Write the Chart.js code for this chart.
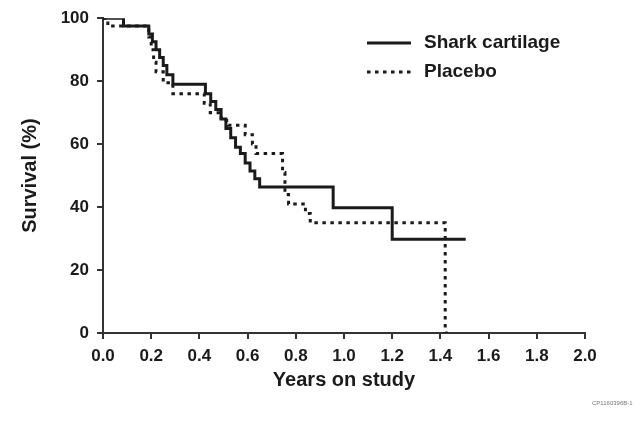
<!DOCTYPE html>
<html>
<head>
<meta charset="utf-8">
<script src="https://cdn.jsdelivr.net/npm/chart.js@4"></script>
<style>
    html, body { margin: 0; padding: 0; background: #fff; }
    #wrap { width: 644px; height: 427px; position: relative; }
</style>
</head>
<body>
<div id="wrap"><canvas id="survivalChart"></canvas></div>
<script>
// Kaplan-Meier steps (years, survival %)
const sharkTimes    = [0, 0.085, 0.19, 0.205, 0.22, 0.235, 0.25, 0.265, 0.29, 0.425, 0.447, 0.468, 0.49, 0.51, 0.53, 0.55, 0.57, 0.59, 0.61, 0.63, 0.65, 0.955, 1.2, 1.505];
const sharkSurvival = [100, 97.5, 95, 92.5, 90, 87.5, 85, 82, 79, 76, 73.5, 71, 68, 65, 62, 59, 57, 54, 51.5, 49, 46.4, 39.8, 29.8, 29.8];

const placeboTimes    = [0, 0.02, 0.19, 0.2, 0.21, 0.22, 0.25, 0.29, 0.42, 0.445, 0.49, 0.52, 0.59, 0.62, 0.635, 0.745, 0.755, 0.77, 0.84, 0.86, 1.42, 1.445];
const placeboSurvival = [100, 97.5, 94, 90, 86, 83, 79.5, 76, 73, 70, 67.5, 66, 63, 60, 57, 51, 44, 41, 38, 35, 0, 0];

const seriesNames = ['Shark cartilage', 'Placebo'];
const xTickValues = [0, 0.2, 0.4, 0.6, 0.8, 1.0, 1.2, 1.4, 1.6, 1.8, 2.0];
const yTickValues = [0, 20, 40, 60, 80, 100];

const FONT = "'Liberation Sans', Arial, sans-serif";
const INK = '#1a1a1a';

function toPoints(xs, ys) {
    return xs.map((x, i) => ({ x: x, y: ys[i] }));
}

// legend drawn inside the plot, top right, plus the tiny figure code
const figureExtras = {
    id: 'figureExtras',
    afterDraw(chart) {
        const ctx = chart.ctx;
        ctx.save();
        const rows = [
            { y: 43, dash: [] },
            { y: 72, dash: [3.5, 4.5] }
        ];
        rows.forEach((row, i) => {
            ctx.beginPath();
            ctx.setLineDash(row.dash);
            ctx.lineWidth = 3;
            ctx.strokeStyle = INK;
            ctx.lineCap = 'butt';
            ctx.moveTo(367, row.y);
            ctx.lineTo(411, row.y);
            ctx.stroke();
            ctx.setLineDash([]);
            ctx.fillStyle = INK;
            ctx.font = "bold 19px " + FONT;
            ctx.textBaseline = 'middle';
            ctx.textAlign = 'left';
            ctx.fillText(seriesNames[i], 424, row.y);
        });
        ctx.fillStyle = '#777';
        ctx.font = "6px " + FONT;
        ctx.fillText('CP1160396B-1', 592, 403);
        ctx.restore();
    }
};

new Chart(document.getElementById('survivalChart'), {
    type: 'line',
    data: {
        datasets: [{
            label: seriesNames[0],
            data: toPoints(sharkTimes, sharkSurvival),
            borderColor: INK,
            borderWidth: 3,
            stepped: 'before',
            pointRadius: 0,
            fill: false
        }, {
            label: seriesNames[1],
            data: toPoints(placeboTimes, placeboSurvival),
            borderColor: INK,
            borderWidth: 3,
            borderDash: [3.5, 4.5],
            borderCapStyle: 'butt',
            stepped: 'before',
            pointRadius: 0,
            fill: false
        }]
    },
    options: {
        responsive: true,
        maintainAspectRatio: false,
        animation: false,
        layout: { padding: { top: 17, right: 59, left: 0, bottom: 0 } },
        plugins: {
            legend: { display: false },
            tooltip: { enabled: false }
        },
        scales: {
            x: {
                type: 'linear',
                min: 0,
                max: 2,
                afterBuildTicks: axis => { axis.ticks = xTickValues.map(v => ({ value: v })); },
                afterFit: axis => { axis.height = 94; },
                border: { display: true, color: '#333', width: 2 },
                grid: { drawOnChartArea: false, drawTicks: true, tickLength: 6, color: '#333', lineWidth: 2 },
                ticks: {
                    color: INK,
                    padding: 7,
                    maxRotation: 0,
                    font: { family: FONT, size: 17, weight: 'bold' },
                    callback: v => Number(v).toFixed(1)
                },
                title: {
                    display: true,
                    text: 'Years on study',
                    color: INK,
                    padding: { bottom: 35 },
                    font: { family: FONT, size: 20, weight: 'bold' }
                }
            },
            y: {
                min: 0,
                max: 100,
                afterBuildTicks: axis => { axis.ticks = yTickValues.map(v => ({ value: v })); },
                afterFit: axis => { axis.width = 103; },
                border: { display: true, color: '#333', width: 2 },
                grid: { drawOnChartArea: false, drawTicks: true, tickLength: 6, color: '#333', lineWidth: 2 },
                ticks: {
                    color: INK,
                    padding: 8,
                    font: { family: FONT, size: 17, weight: 'bold' }
                },
                title: {
                    display: true,
                    text: 'Survival (%)',
                    color: INK,
                    padding: { top: 18 },
                    font: { family: FONT, size: 20, weight: 'bold' }
                }
            }
        }
    },
    plugins: [figureExtras]
});
</script>
</body>
</html>
